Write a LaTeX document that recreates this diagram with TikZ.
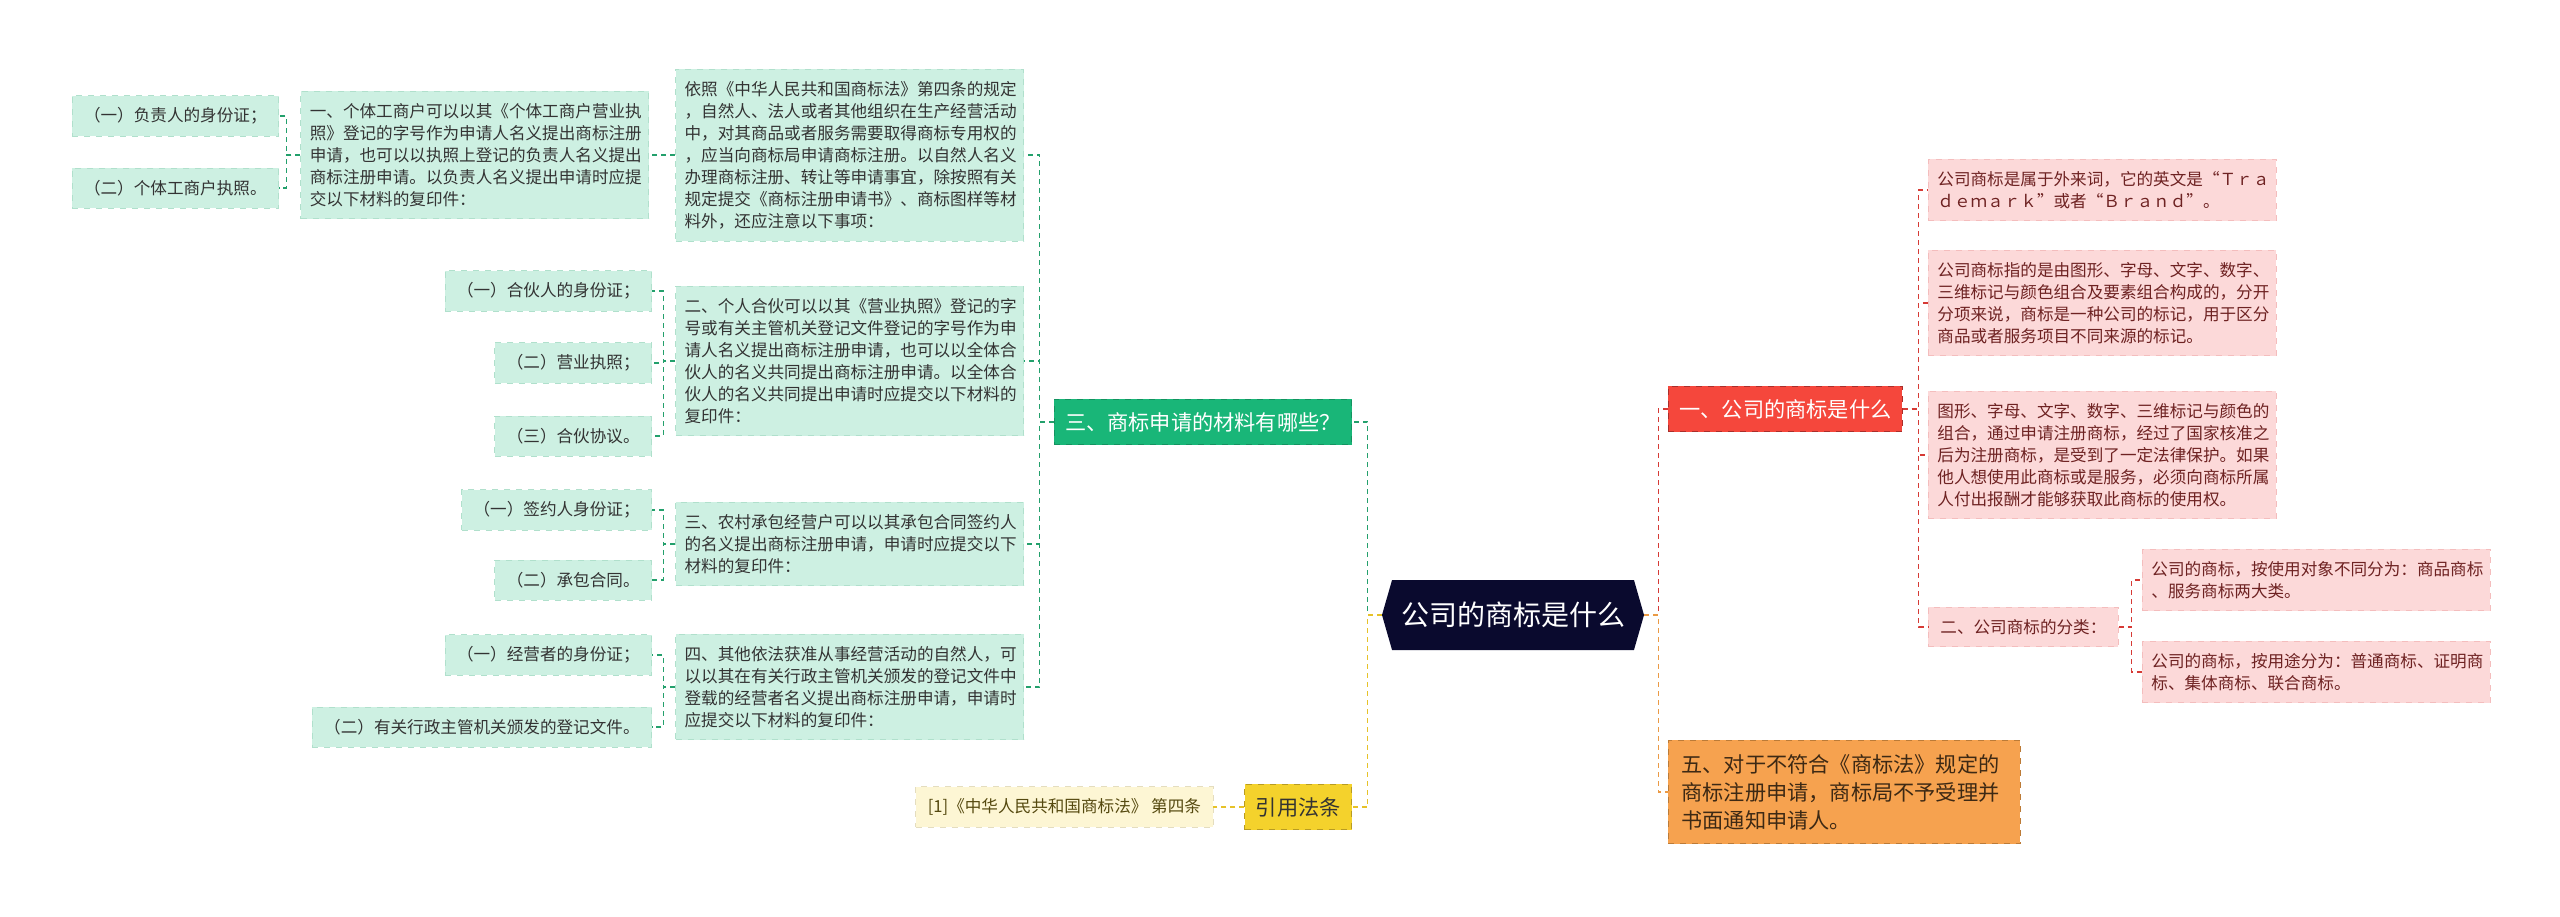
\documentclass[tikz,border=0pt]{standalone}
\usepackage{fontspec}
\setmainfont{Noto Sans CJK SC}
\usetikzlibrary{positioning,shapes.symbols}

\definecolor{navy}{HTML}{0A0A2E}
\definecolor{mint}{HTML}{CDF0E2}
\definecolor{mintedge}{HTML}{B0E0CC}
\definecolor{mintline}{HTML}{23A06C}
\definecolor{greentopic}{HTML}{19B678}
\definecolor{rose}{HTML}{FCD9D9}
\definecolor{roseedge}{HTML}{F4BDBD}
\definecolor{rosetext}{HTML}{6E2222}
\definecolor{redtopic}{HTML}{F5473C}
\definecolor{redline}{HTML}{D63A35}
\definecolor{orangetopic}{HTML}{F6A24F}
\definecolor{orangeline}{HTML}{EB9A45}
\definecolor{yellowtopic}{HTML}{F4D22C}
\definecolor{yellowline}{HTML}{E6C229}
\definecolor{cream}{HTML}{FDF6D4}
\definecolor{darktext}{HTML}{333333}

\begin{document}
\begin{tikzpicture}[x=0.5pt, y=-0.5pt,
node distance = 8pt and 13pt,
root/.style={signal, signal to=west and east, signal pointer angle=148, fill=navy, text=white, font=\fontsize{14pt}{16pt}\selectfont, minimum width=131pt, minimum height=35pt, inner xsep=3pt},
topic/.style={rectangle, dashed, line width=0.4pt, inner xsep=5.5pt, inner ysep=6.5pt, font=\fontsize{10.6pt}{14pt}\selectfont},
gbox/.style={rectangle, fill=mint, draw=mintedge, dashed, line width=0.4pt, text=darktext, inner xsep=4.5pt, inner ysep=6pt, font=\fontsize{8.3pt}{11pt}\selectfont},
gpara/.style={gbox, text width=165pt, align=left},
gleaf/.style={gbox, inner xsep=6pt},
pbox/.style={gbox, fill=rose, draw=roseedge, text=rosetext},
ppara/.style={pbox, text width=165pt, align=left},
gline/.style={draw=mintline, dashed, dash pattern=on 2.5pt off 2pt, line width=0.65pt},
rline/.style={gline, draw=redline},
oline/.style={gline, draw=orangeline},
yline/.style={gline, draw=yellowline}]

\useasboundingbox (0,0) rectangle (2560,916);

\node[root] (root) at (1513,615) {公司的商标是什么};

\node[topic, fill=greentopic, draw=greentopic!80!black, text=white, anchor=east] (mat) at (1352,422) {三、商标申请的材料有哪些？};
\node[topic, fill=yellowtopic, draw=yellowline!80!black, text=darktext, anchor=east] (cite) at (1352,807) {引用法条};
\node[gbox, fill=cream, draw=cream!90!black, text=yellowtopic!35!black, inner xsep=6pt, left = 15.5pt of cite] (law) {[1]《中华人民共和国商标法》 第四条};
\node[topic, fill=redtopic, draw=redline!80!black, text=white, anchor=west] (what) at (1668,409) {一、公司的商标是什么};
\node[topic, fill=orangetopic, draw=orangeline!80!black, text=orangetopic!25!black, text width=163pt, align=left, inner xsep=6.5pt, inner ysep=7pt, anchor=west] (reject) at (1668,792) {五、对于不符合《商标法》规定的\\商标注册申请，商标局不予受理并\\书面通知申请人。};

\node[gpara, anchor=east] (rule) at (1024,155) {依照《中华人民共和国商标法》第四条的规定\\，自然人、法人或者其他组织在生产经营活动\\中，对其商品或者服务需要取得商标专用权的\\，应当向商标局申请商标注册。以自然人名义\\办理商标注册、转让等申请事宜，除按照有关\\规定提交《商标注册申请书》、商标图样等材\\料外，还应注意以下事项：};
\node[gpara, left = 13pt of rule] (indiv) {一、个体工商户可以以其《个体工商户营业执\\照》登记的字号作为申请人名义提出商标注册\\申请，也可以以执照上登记的负责人名义提出\\商标注册申请。以负责人名义提出申请时应提\\交以下材料的复印件：};
\node[gleaf, anchor=east] (indiv1) at (279,116) {（一）负责人的身份证；};
\node[gleaf, anchor=east] (indiv2) at (279,188) {（二）个体工商户执照。};

\node[gpara, anchor=east] (partner) at (1024,361) {二、个人合伙可以以其《营业执照》登记的字\\号或有关主管机关登记文件登记的字号作为申\\请人名义提出商标注册申请，也可以以全体合\\伙人的名义共同提出商标注册申请。以全体合\\伙人的名义共同提出申请时应提交以下材料的\\复印件：};
\node[gleaf, anchor=east] (partner1) at (652,291) {（一）合伙人的身份证；};
\node[gleaf, anchor=east] (partner2) at (652,363) {（二）营业执照；};
\node[gleaf, anchor=east] (partner3) at (652,436) {（三）合伙协议。};

\node[gpara, anchor=east] (rural) at (1024,544) {三、农村承包经营户可以以其承包合同签约人\\的名义提出商标注册申请，申请时应提交以下\\材料的复印件：};
\node[gleaf, anchor=east] (rural1) at (652,510) {（一）签约人身份证；};
\node[gleaf, anchor=east] (rural2) at (652,580) {（二）承包合同。};

\node[gpara, anchor=east] (other) at (1024,687) {四、其他依法获准从事经营活动的自然人，可\\以以其在有关行政主管机关颁发的登记文件中\\登载的经营者名义提出商标注册申请，申请时\\应提交以下材料的复印件：};
\node[gleaf, anchor=east] (other1) at (652,655) {（一）经营者的身份证；};
\node[gleaf, anchor=east] (other2) at (652,727) {（二）有关行政主管机关颁发的登记文件。};

\node[ppara, anchor=west] (origin) at (1928,190) {公司商标是属于外来词，它的英文是“Ｔｒａ\\ｄｅｍａｒｋ”或者“Ｂｒａｎｄ”。};
\node[ppara, anchor=west] (meaning) at (1928,303) {公司商标指的是由图形、字母、文字、数字、\\三维标记与颜色组合及要素组合构成的，分开\\分项来说，商标是一种公司的标记，用于区分\\商品或者服务项目不同来源的标记。};
\node[ppara, anchor=west] (usage) at (1928,455) {图形、字母、文字、数字、三维标记与颜色的\\组合，通过申请注册商标，经过了国家核准之\\后为注册商标，是受到了一定法律保护。如果\\他人想使用此商标或是服务，必须向商标所属\\人付出报酬才能够获取此商标的使用权。};
\node[pbox, inner xsep=6pt, anchor=west] (kinds) at (1928,627) {二、公司商标的分类：};
\node[ppara, anchor=west] (kind1) at (2142,580) {公司的商标，按使用对象不同分为：商品商标\\、服务商标两大类。};
\node[ppara, anchor=west] (kind2) at (2142,672) {公司的商标，按用途分为：普通商标、证明商\\标、集体商标、联合商标。};

\draw[gline] (root.west) -- ++(-7pt,0) |- (mat.east);
\draw[yline] (root.west) -- ++(-7pt,0) |- (cite.east);
\draw[yline] (cite.west) -- (law.east);
\draw[rline] (root.east) -- ++(7pt,0) |- (what.west);
\draw[oline] (root.east) -- ++(7pt,0) |- (reject.west);

\draw[gline] (mat.west) -- ++(-7pt,0) |- (rule.east);
\draw[gline] (mat.west) -- ++(-7pt,0) |- (partner.east);
\draw[gline] (mat.west) -- ++(-7pt,0) |- (rural.east);
\draw[gline] (mat.west) -- ++(-7pt,0) |- (other.east);
\draw[gline] (rule.west) -- (indiv.east);
\draw[gline] (indiv.west) -- ++(-7pt,0) |- (indiv1.east);
\draw[gline] (indiv.west) -- ++(-7pt,0) |- (indiv2.east);
\draw[gline] (partner.west) -- ++(-6pt,0) |- (partner1.east);
\draw[gline] (partner.west) -- ++(-6pt,0) |- (partner2.east);
\draw[gline] (partner.west) -- ++(-6pt,0) |- (partner3.east);
\draw[gline] (rural.west) -- ++(-6pt,0) |- (rural1.east);
\draw[gline] (rural.west) -- ++(-6pt,0) |- (rural2.east);
\draw[gline] (other.west) -- ++(-6pt,0) |- (other1.east);
\draw[gline] (other.west) -- ++(-6pt,0) |- (other2.east);

\draw[rline] (what.east) -- ++(8pt,0) |- (origin.west);
\draw[rline] (what.east) -- ++(8pt,0) |- (meaning.west);
\draw[rline] (what.east) -- ++(8pt,0) |- (usage.west);
\draw[rline] (what.east) -- ++(8pt,0) |- (kinds.west);
\draw[rline] (kinds.east) -- ++(6.5pt,0) |- (kind1.west);
\draw[rline] (kinds.east) -- ++(6.5pt,0) |- (kind2.west);
\end{tikzpicture}
\end{document}
